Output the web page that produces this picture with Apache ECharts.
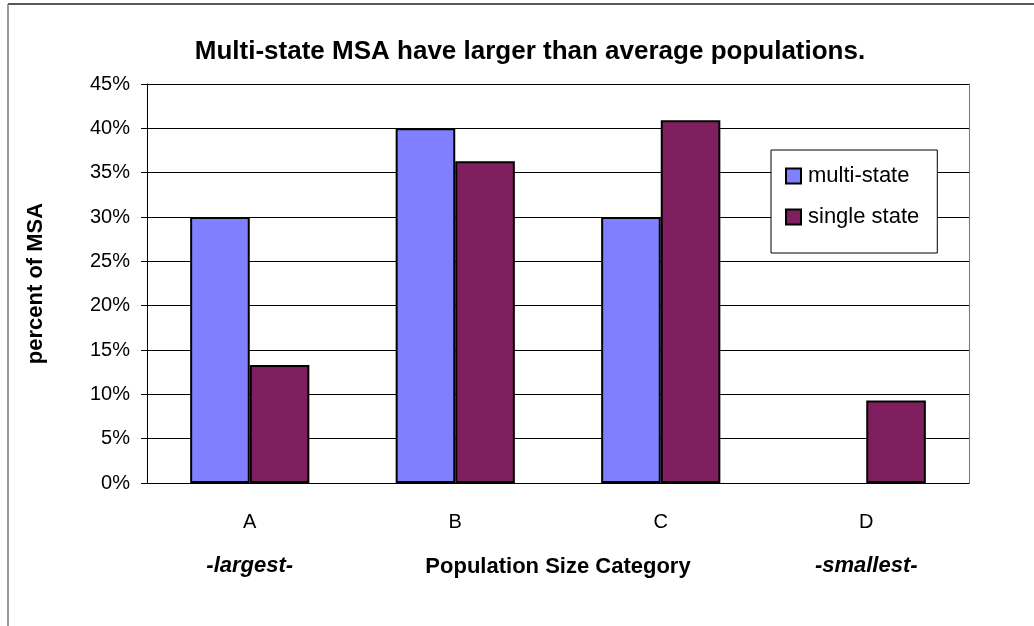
<!DOCTYPE html>
<html>
<head>
<meta charset="utf-8">
<script src="https://cdn.jsdelivr.net/npm/echarts@6/dist/echarts.min.js"></script>
<style>
  html, body { margin: 0; padding: 0; background: #fff; }
  #main { width: 1034px; height: 626px; }
</style>
</head>
<body>
<div id="main"></div>
<script>
  // data
  var categories = ['A', 'B', 'C', 'D'];
  var subLabels = ['-largest-', '', '', '-smallest-'];
  var multiState = [30.0, 40.0, 30.0, 0];
  var singleState = [13.3, 36.3, 40.9, 9.3];

  var font = '"Liberation Sans", Arial, sans-serif';

  // zero-height bars get no outline, like the original
  function barData(arr) {
    return arr.map(function (v) {
      return v === 0 ? { value: v, itemStyle: { borderWidth: 0 } } : v;
    });
  }

  var myChart = echarts.init(document.getElementById('main'));

  var option = {
    backgroundColor: '#fff',
    animation: false,
    title: {
      text: 'Multi-state MSA have larger than average populations.',
      left: 525,
      textAlign: 'center',
      top: 34,
      textStyle: { fontFamily: font, fontSize: 26, fontWeight: 'bold', color: '#000' }
    },
    legend: {
      orient: 'vertical',
      left: 771,
      top: 150,
      padding: [15, 18, 25, 14],
      itemGap: 19,
      itemWidth: 15,
      itemHeight: 15,
      icon: 'rect',
      backgroundColor: '#fff',
      borderColor: '#000',
      borderWidth: 1,
      textStyle: { fontFamily: font, fontSize: 22, color: '#000', padding: [0, 0, 0, 2] },
      data: ['multi-state', 'single state']
    },
    grid: { left: 147, right: 65, top: 84, bottom: 143 },
    xAxis: {
      type: 'category',
      data: categories,
      name: 'Population Size Category',
      nameLocation: 'middle',
      nameGap: 73,
      nameMoveOverlap: false,
      nameTextStyle: { fontFamily: font, fontSize: 22, fontWeight: 'bold', color: '#000' },
      axisLine: { lineStyle: { color: '#000', width: 1 } },
      axisTick: { length: 7, lineStyle: { color: '#666' } },
      axisLabel: {
        margin: 17,
        formatter: function (v, i) {
          return '{c|' + v + '}\n{s|' + subLabels[i] + '}';
        },
        rich: {
          c: { fontFamily: font, fontSize: 20, color: '#000', lineHeight: 44 },
          s: { fontFamily: font, fontSize: 22, fontWeight: 'bold', fontStyle: 'italic', color: '#000', lineHeight: 44 }
        }
      }
    },
    yAxis: [{
      type: 'value',
      min: 0,
      max: 45,
      interval: 5,
      name: 'percent of MSA',
      nameLocation: 'middle',
      nameRotate: 90,
      nameGap: 100,
      nameMoveOverlap: false,
      nameTextStyle: { fontFamily: font, fontSize: 22, fontWeight: 'bold', color: '#000' },
      axisLine: { show: true, lineStyle: { color: '#000', width: 1 } },
      axisTick: { show: true, length: 6, lineStyle: { color: '#000' } },
      axisLabel: {
        margin: 17,
        formatter: '{value}%',
        fontFamily: font, fontSize: 20, color: '#000'
      },
      splitLine: { lineStyle: { color: '#000', width: 1 } }
    }, {
      type: 'value',
      position: 'right',
      min: 0,
      max: 45,
      interval: 5,
      axisLine: { show: true, lineStyle: { color: '#777', width: 1 } },
      axisTick: { show: false },
      axisLabel: { show: false },
      splitLine: { show: false }
    }],
    series: [{
      name: 'multi-state',
      type: 'bar',
      data: barData(multiState),
      barGap: 0,
      barCategoryGap: '42%',
      itemStyle: { color: '#8080FF', borderColor: '#000', borderWidth: 2 }
    }, {
      name: 'single state',
      type: 'bar',
      data: barData(singleState),
      itemStyle: { color: '#801F5F', borderColor: '#000', borderWidth: 2 }
    }],
    graphic: [
      { type: 'line', shape: { x1: 8, y1: 4, x2: 1034, y2: 4 }, style: { stroke: '#222', lineWidth: 1.5 } },
      { type: 'line', shape: { x1: 8, y1: 4, x2: 8, y2: 626 }, style: { stroke: '#777', lineWidth: 1.5 } }
    ]
  };

  myChart.setOption(option);
</script>
</body>
</html>
